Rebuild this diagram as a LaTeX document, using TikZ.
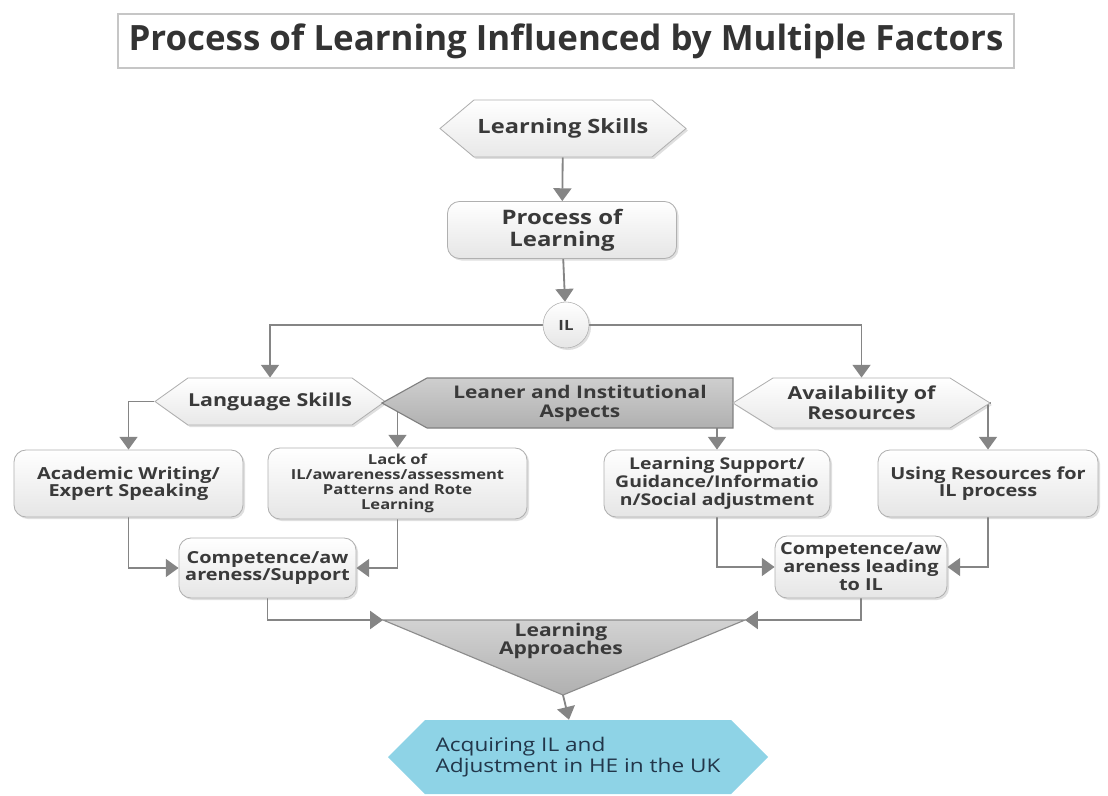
\documentclass[tikz,border=0pt]{standalone}
\usepackage{fontspec}
\setmainfont{Open Sans}
\newfontfamily\boxfont[FakeStretch=1.2]{Open Sans}
\usetikzlibrary{shapes,arrows.meta,calc,shadows}

\pgfdeclarelayer{bg}
\pgfsetlayers{bg,main}

\definecolor{linegray}{HTML}{858585}
\definecolor{txtgray}{HTML}{3A3A3A}
\definecolor{boxedge}{HTML}{B0B0B0}
\definecolor{skyblue}{HTML}{8ED3E6}
\definecolor{navytxt}{HTML}{22364A}

\tikzset{
  box/.style={rectangle, rounded corners=3mm, draw=boxedge, line width=0.6pt,
    top color=white, bottom color=gray!20, text=txtgray, align=center,
    inner sep=1pt, font=\boxfont\bfseries\fontsize{11.8}{12.4}\selectfont,
    drop shadow={opacity=0.25, shadow xshift=0.5mm, shadow yshift=-0.5mm}},
  hexa/.style={signal, signal to=west and east, draw=boxedge, line width=0.6pt,
    top color=white, bottom color=gray!18, text=txtgray, align=center,
    inner sep=0pt, font=\boxfont\bfseries\fontsize{12.7}{14.5}\selectfont,
    drop shadow={opacity=0.25, shadow xshift=0.5mm, shadow yshift=-0.5mm}},
  conn/.style={draw=linegray, line width=1.3pt,
    -{Triangle[width=4.5mm,length=3.2mm]}},
}

\begin{document}
\begin{tikzpicture}[x=0.25mm, y=-0.25mm]
\useasboundingbox (0,0) rectangle (1108,796);

% title
\node[draw=gray!45, line width=1.2pt, text=black!80, minimum width=224mm, minimum height=13.5mm, inner sep=1pt,
  font=\bfseries\fontsize{24.8}{28}\selectfont] (title) at (566,41)
  {Process of Learning Influenced by Multiple Factors};

% upper chain
\node[hexa, signal pointer angle=80, minimum width=61.5mm, minimum height=14.25mm,
  font=\boxfont\bfseries\fontsize{14}{16}\selectfont] (skills) at (563,128.5) {Learning Skills};
\node[box, minimum width=57.25mm, minimum height=14.25mm, font=\boxfont\bfseries\fontsize{14.2}{15.5}\selectfont] (process) at (562,230) {Process of\\Learning};
\node[circle, draw=boxedge, top color=white, bottom color=gray!20, text=txtgray, minimum size=11.5mm, inner sep=0pt,
  font=\boxfont\bfseries\fontsize{10}{12}\selectfont, drop shadow={opacity=0.25, shadow xshift=0.5mm, shadow yshift=-0.5mm}] (il) at (566,325) {IL};

% factors
\node[hexa, signal pointer angle=71, minimum width=57.5mm, minimum height=11.75mm] (lang) at (270,401.5) {Language Skills};
\node[signal, signal to=west, signal pointer angle=58, minimum width=87.75mm, minimum height=12.5mm, inner sep=0pt,
  draw=black!50, line width=0.8pt, top color=gray!38, bottom color=gray!62, text=txtgray, align=center,
  font=\boxfont\bfseries\fontsize{12.4}{13.5}\selectfont] (leaner) at (580,403) {Leaner and Institutional\\Aspects};
\node[hexa, signal pointer angle=64, minimum width=64.25mm, minimum height=12.5mm] (avail) at (861.5,403) {Availability of\\Resources};

% details
\node[box, minimum width=57.25mm, minimum height=16.75mm] (acad) at (128.5,483.5) {Academic Writing/\\Expert Speaking};
\node[box, minimum width=64.75mm, minimum height=17.75mm, font=\boxfont\bfseries\fontsize{9.8}{10.8}\selectfont] (lack) at (397.5,483.5) {Lack of\\IL/awareness/assessment\\Patterns and Rote\\Learning};
\node[box, minimum width=56.5mm, minimum height=16.75mm, font=\boxfont\bfseries\fontsize{11.5}{12.6}\selectfont] (support) at (717,483.5) {Learning Support/\\Guidance/Informatio\\n/Social adjustment};
\node[box, minimum width=55mm, minimum height=16.75mm] (using) at (988,483.5) {Using Resources for\\IL process};

% competence
\node[box, minimum width=44.25mm, minimum height=15mm] (comp1) at (267.5,568) {Competence/aw\\areness/Support};
\node[box, minimum width=43mm, minimum height=15.5mm, font=\boxfont\bfseries\fontsize{11.8}{12.8}\selectfont] (comp2) at (861,567) {Competence/aw\\areness leading\\to IL};

% approaches triangle
\coordinate (tl) at (383,620);
\coordinate (tr) at (745,620);
\coordinate (apex) at (563,695);
\draw[draw=black!45, line width=0.8pt, top color=gray!35, bottom color=gray!62] (tl) -- (tr) -- (apex) -- cycle;
\node[text=txtgray, align=center, font=\boxfont\bfseries\fontsize{12.5}{12.5}\selectfont] (appr) at (561,641) {Learning\\Approaches};

% outcome
\node[signal, signal to=west and east, signal pointer angle=90, minimum width=95mm, minimum height=18.5mm, inner sep=0pt,
  fill=skyblue, text=navytxt, align=left, font=\boxfont\fontsize{13.4}{14.5}\selectfont] (goal) at (578,757)
  {Acquiring IL and\\Adjustment in HE in the UK};

\begin{pgfonlayer}{bg}
\draw[conn] (skills) -- (process);
\draw[conn] (process) -- (il);
\draw[conn] (il) -| (lang);
\draw[conn] (il) -| (avail);
\draw[conn] (lang.west) -| (acad);
\draw[conn] (lang.east) -| (lack);
\draw[conn] (support |- leaner.center) -- (support);
\draw[conn] (avail.east) -| (using);
\draw[conn] (acad) |- (comp1);
\draw[conn] (lack) |- (comp1);
\draw[conn] (support) |- (comp2);
\draw[conn] (using) |- (comp2);
\draw[conn] (comp1) |- (tl);
\draw[conn] (comp2) |- (tr);
\draw[conn] (apex) -- (goal);
\end{pgfonlayer}
\end{tikzpicture}
\end{document}
